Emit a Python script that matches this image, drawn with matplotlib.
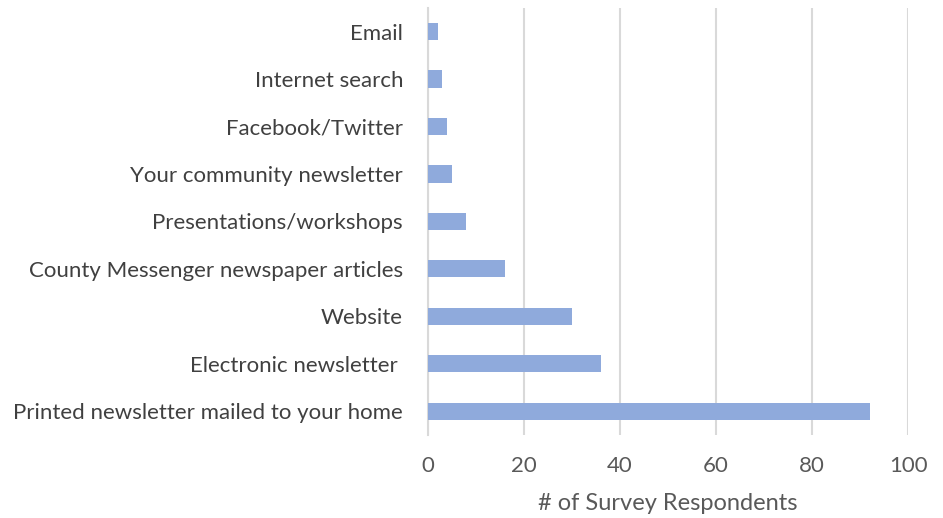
import matplotlib
matplotlib.use("Agg")
import matplotlib.pyplot as plt

categories = [
    "Printed newsletter mailed to your home",
    "Electronic newsletter ",
    "Website",
    "County Messenger newspaper articles",
    "Presentations/workshops",
    "Your community newsletter",
    "Facebook/Twitter",
    "Internet search",
    "Email",
]
respondents = [92, 36, 30, 16, 8, 5, 4, 3, 2]
x_ticks = [0, 20, 40, 60, 80, 100]

plt.rcParams["font.family"] = ["Lato", "DejaVu Sans"]

fig = plt.figure(figsize=(9.43, 5.18), dpi=100)
ax = fig.add_axes([0.4539, 0.160, 0.5092, 0.825])

ypos = list(range(len(categories)))
ax.barh(ypos, respondents, height=0.36, color="#8FAADC", zorder=3)

ax.set_xlim(0, 100)
ax.set_ylim(-0.5, len(categories) - 0.5)
ax.set_xticks(x_ticks)
ax.set_yticks(ypos)
ax.set_yticklabels(categories)
ax.grid(axis="x", color="#D9D9D9", linewidth=1.5, zorder=0)
ax.tick_params(axis="both", length=0, labelsize=16, colors="#404040")
ax.tick_params(axis="x", pad=15, colors="#595959")
ax.tick_params(axis="y", pad=18)
for s in ["top", "right", "bottom"]:
    ax.spines[s].set_visible(False)
ax.spines["left"].set_color("#D9D9D9")
ax.spines["left"].set_linewidth(1.5)

ax.set_xlabel("# of Survey Respondents", fontsize=17, color="#595959", labelpad=12)

fig.savefig("out.png", dpi=100, facecolor="white")
